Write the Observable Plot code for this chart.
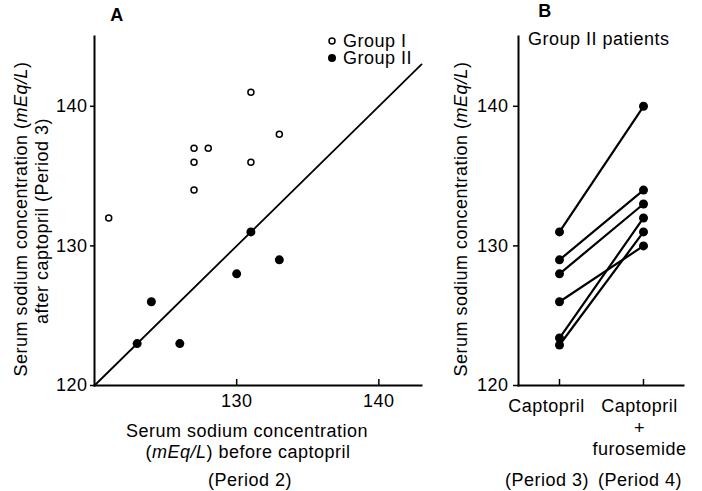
<!DOCTYPE html>
<html><head><meta charset="utf-8">
<script src="https://cdn.jsdelivr.net/npm/d3@7"></script>
<script src="https://cdn.jsdelivr.net/npm/@observablehq/plot@0.6"></script>
<style>
body{margin:0;background:#fff;}
#wrap{position:relative;width:702px;height:491px;overflow:hidden;background:#fff;font-family:"Liberation Sans",Arial,sans-serif;}
#wrap svg{position:absolute;}
</style></head><body><div id="wrap"></div>
<script>
// Panel A data
const groupIBefore  = [121,127,127,127,128,131,131,133];
const groupIAfter   = [132,137,136,134,137,141,136,138];
const groupIIBefore = [123,124,126,130,131,133];
const groupIIAfter  = [123,126,123,128,131,129];
const identityLine  = [120,143];
const xDomainA = [120,143];
const yDomain  = [120,145];
const xTicksA  = [130,140];
const yTicks   = [120,130,140];
// Panel B data
const periods = ["Captopril","Captopril\n+\nfurosemide"];
const period3 = [131,129,128,126,123.4,122.9];
const period4 = [140,134,133,130,132,131];

const font = {fontFamily:'"Liberation Sans", Arial, sans-serif', fontSize:"18px", letterSpacing:"0.5px", color:"#000", background:"transparent", overflow:"visible"};

const groupI  = groupIBefore.map((b,i)=>({before:b, after:groupIAfter[i]}));
const groupII = groupIIBefore.map((b,i)=>({before:b, after:groupIIAfter[i]}));
const diag = identityLine.map(v=>({before:v, after:v}));

const a = Plot.plot({
  width:430, height:491, marginLeft:94, marginRight:9, marginTop:36, marginBottom:106,
  style: font,
  x:{domain:xDomainA}, y:{domain:yDomain},
  marks:[
    Plot.frame({anchor:"left", strokeWidth:2}),
    Plot.frame({anchor:"bottom", strokeWidth:2}),
    Plot.line(diag, {x:"before", y:"after", strokeWidth:1.8}),
    Plot.dot(groupI, {x:"before", y:"after", r:3, stroke:"black", strokeWidth:1.5, fill:"white"}),
    Plot.dot(groupII, {x:"before", y:"after", r:4.5, fill:"black"}),
    Plot.axisY({ticks:yTicks, tickSize:4, tickPadding:3, label:null, strokeWidth:1.5}),
    Plot.axisX({ticks:xTicksA, tickSize:-6, tickPadding:15, label:null, strokeWidth:1.5})
  ]
});
a.style.left="0px"; a.style.top="0px";

const patients = period3.flatMap((v,i)=>[{period:periods[0], value:v, id:i},{period:periods[1], value:period4[i], id:i}]);

const b = Plot.plot({
  width:272, height:491, marginLeft:88, marginRight:19, marginTop:36, marginBottom:106,
  style: font,
  x:{type:"point", domain:periods, padding:0.48},
  y:{domain:yDomain},
  marks:[
    Plot.frame({anchor:"left", strokeWidth:2}),
    Plot.frame({anchor:"bottom", strokeWidth:2}),
    Plot.line(patients, {x:"period", y:"value", z:"id", strokeWidth:2.2}),
    Plot.dot(patients, {x:"period", y:"value", r:4.5, fill:"black"}),
    Plot.axisY({ticks:yTicks, tickSize:5, tickPadding:5, label:null, strokeWidth:1.5}),
    Plot.axisX({tickSize:-6, tickFormat:()=>"", label:null, strokeWidth:1.5}),
    Plot.axisX([periods[0]], {tickSize:0, tickPadding:12, dx:-13, label:null, lineHeight:1.17}),
    Plot.axisX([periods[1]], {tickSize:0, tickPadding:12, dx:-4, label:null, lineHeight:1.17})
  ]
});
b.style.left="430px"; b.style.top="0px";

const wrap = document.getElementById("wrap");
wrap.appendChild(a);
wrap.appendChild(b);

// overlay for titles, labels and legend
const svg = d3.select(wrap).append("svg")
  .attr("width",702).attr("height",491)
  .style("left","0px").style("top","0px")
  .attr("font-family",'"Liberation Sans", Arial, sans-serif')
  .attr("font-size",18).attr("letter-spacing","0.5px").attr("fill","#000");

function label(x, y, parts, {anchor="middle", rotate=0, weight="normal"}={}) {
  const t = svg.append("text")
    .attr("transform", `translate(${x},${y})` + (rotate ? ` rotate(${rotate})` : ""))
    .attr("text-anchor", anchor).attr("font-weight", weight);
  for (const p of parts) {
    const s = t.append("tspan").text(typeof p === "string" ? p : p.t);
    if (typeof p !== "string" && p.i) s.attr("font-style","italic");
  }
  return t;
}

label(117, 21, ["A"], {weight:"bold"});
label(545, 17, ["B"], {weight:"bold"});
label(528, 45, ["Group II patients"], {anchor:"start"});

// legend
svg.append("circle").attr("cx",332).attr("cy",41).attr("r",3).attr("fill","white").attr("stroke","black").attr("stroke-width",1.5);
svg.append("circle").attr("cx",332).attr("cy",58).attr("r",4).attr("fill","black");
label(343, 47, ["Group I"], {anchor:"start"});
label(343, 64, ["Group II"], {anchor:"start"});

// panel A labels
label(247, 437, ["Serum sodium concentration"]);
label(248, 458, ["(", {t:"mEq/L", i:true}, ") before captopril"]);
label(250, 486, ["(Period 2)"]);
label(27, 219, ["Serum sodium concentration (", {t:"mEq/L", i:true}, ")"], {rotate:-90});
label(48, 221, ["after captopril (Period 3)"], {rotate:-90});

// panel B labels
label(467, 219, ["Serum sodium concentration (", {t:"mEq/L", i:true}, ")"], {rotate:-90});
label(547, 486, ["(Period 3)"]);
label(640, 486, ["(Period 4)"]);
</script></body></html>
